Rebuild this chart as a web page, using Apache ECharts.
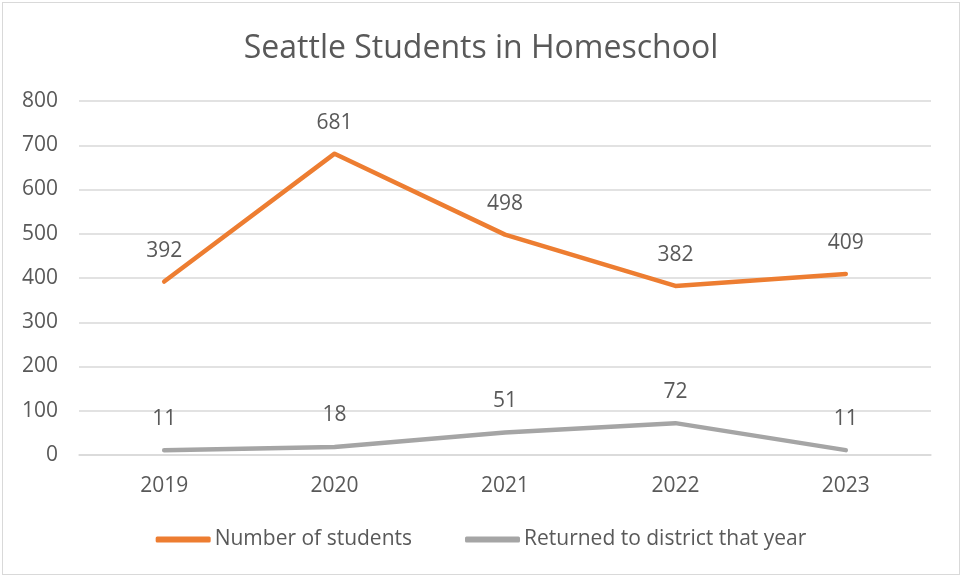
<!DOCTYPE html>
<html lang="en">
<head>
    <meta charset="UTF-8">
    <title>Seattle Students in Homeschool</title>
    <script src="https://cdn.jsdelivr.net/npm/echarts@6/dist/echarts.min.js"></script>
    <style>
        body { margin: 0; background: #fff; }
        #main {
            position: absolute;
            left: 2px;
            top: 2px;
            width: 958px;
            height: 573px;
            border: 1px solid #d9d9d9;
            box-sizing: border-box;
        }
    </style>
</head>
<body>
    <div id="main"></div>
    <script>
        var years = ['2019', '2020', '2021', '2022', '2023'];
        var students = [392, 681, 498, 382, 409];
        var returned = [11, 18, 51, 72, 11];

        var myChart = echarts.init(document.getElementById('main'));
        var font = '"Open Sans", "Noto Sans", sans-serif';
        var textColor = '#595959';

        var option = {
            backgroundColor: '#fff',
            textStyle: { fontFamily: font },
            title: {
                text: 'Seattle Students in Homeschool',
                left: 'center',
                top: 25,
                textStyle: { fontSize: 32, fontWeight: 'normal', color: textColor, fontFamily: font }
            },
            legend: {
                bottom: 19,
                left: 'center',
                icon: 'roundRect',
                itemWidth: 55,
                itemHeight: 6,
                itemGap: 53,
                textStyle: { fontSize: 21, color: textColor, fontFamily: font, padding: [0, 0, 0, -1] },
                data: ['Number of students', 'Returned to district that year']
            },
            grid: { left: 76, right: 28, top: 98, bottom: 119 },
            xAxis: {
                type: 'category',
                data: years,
                boundaryGap: true,
                axisLine: { lineStyle: { color: '#d9d9d9', width: 1.5 } },
                axisTick: { show: false },
                axisLabel: { fontSize: 21, color: textColor, margin: 21 }
            },
            yAxis: {
                type: 'value',
                min: 0,
                max: 800,
                interval: 100,
                axisLine: { show: false },
                axisTick: { show: false },
                axisLabel: { fontSize: 21, color: textColor, margin: 21 },
                splitLine: { lineStyle: { color: '#d9d9d9', width: 1.5 } }
            },
            series: [{
                name: 'Number of students',
                type: 'line',
                data: students,
                symbol: 'circle',
                symbolSize: 0.1,
                lineStyle: { color: '#ED7D31', width: 4.5, cap: 'round', join: 'round' },
                itemStyle: { color: '#ED7D31' },
                label: { show: true, position: 'top', distance: 20, fontSize: 21, color: textColor }
            }, {
                name: 'Returned to district that year',
                type: 'line',
                data: returned,
                symbol: 'circle',
                symbolSize: 0.1,
                lineStyle: { color: '#A5A5A5', width: 4.5, cap: 'round', join: 'round' },
                itemStyle: { color: '#A5A5A5' },
                label: { show: true, position: 'top', distance: 21, fontSize: 21, color: textColor }
            }]
        };

        myChart.setOption(option);
    </script>
</body>
</html>
